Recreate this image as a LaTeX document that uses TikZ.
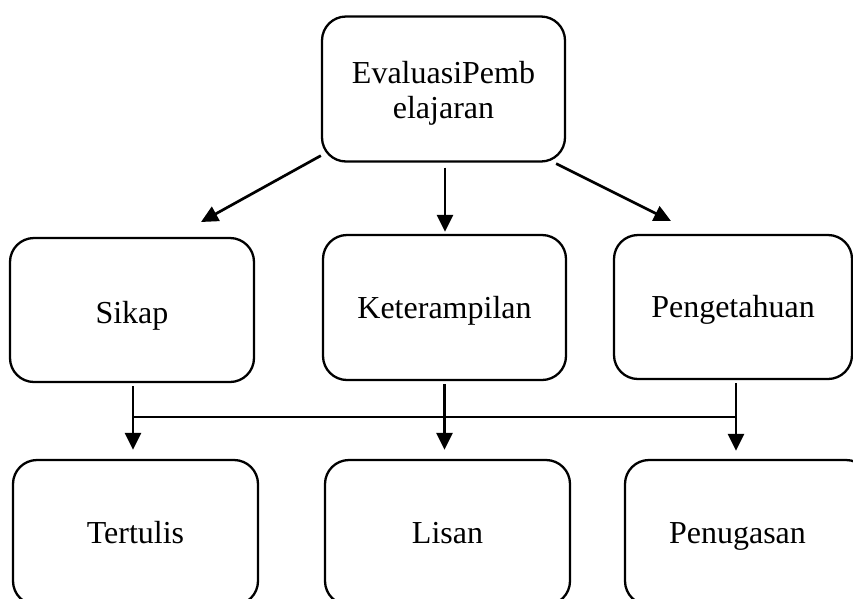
\documentclass[tikz,border=0pt]{standalone}
\usepackage{fontspec}
\setmainfont{Liberation Serif}
\usetikzlibrary{arrows.meta,calc}
\begin{document}
\begin{tikzpicture}[x=1pt,y=-1pt,
  txt/.style={font=\fontsize{32}{35}\selectfont},
  box/.style={draw,line width=2.3pt,rounded corners=24pt,align=center,
    txt,inner sep=0pt,text height=28pt,text depth=7pt},
  arr/.style={line width=2.7pt,-{Triangle[length=17pt,width=16pt]}},
  thinline/.style={line width=1.3pt}]
\useasboundingbox (0,0) rectangle (853,598);
\clip (0,0) rectangle (853,598);
\node[draw,line width=2.3pt,rounded corners=24pt,minimum width=243pt,minimum height=145pt,
  label={[txt,align=center,yshift=-4pt]center:EvaluasiPemb\\elajaran}] (top) at (443.5,89) {};
\node[box,text depth=2pt,minimum width=244pt,minimum height=144pt] (sikap) at (132,310) {Sikap};
\node[box,minimum width=243pt,minimum height=145pt] (ket) at (444.5,307.5) {Keterampilan};
\node[box,minimum width=238pt,minimum height=144pt] (peng) at (733,307) {Pengetahuan};
\node[box,minimum width=245pt,minimum height=145pt] (tert) at (135.5,532.5) {Tertulis};
\node[box,minimum width=245pt,minimum height=145pt] (lisan) at (447.5,532.5) {Lisan};
\node[box,minimum width=245pt,minimum height=145pt] (penu) at (747.5,532.5) {\hspace*{-20pt}Penugasan};
% diagonal and vertical arrows from the top box
\coordinate (t1) at (201,222);
\coordinate (t3) at (671,221);
\draw[arr] ([shift={(0pt,7pt)}]top.south west) -- (t1);
\draw[arr,shorten <=5pt,shorten >=5pt] (top.south -| 445,0) -- (445,0 |- sikap.north);
\draw[arr] ([shift={(-10pt,-1pt)}]top.south east) -- (t3);
% vertical arrows to lower row
\coordinate (hl) at (0,417);
\draw[arr,shorten <=3pt,shorten >=9pt] (sikap.south -| 133,0) -- (133,0 |- tert.north);
\draw[arr,shorten <=3pt,shorten >=9pt] (ket.south) -- (ket.south |- lisan.north);
\draw[arr,shorten <=3pt,shorten >=8pt] (peng.south -| 736,0) -- (736,0 |- penu.north);
\draw[thinline] (133,0 |- hl) -- (736,0 |- hl);
\end{tikzpicture}
\end{document}
